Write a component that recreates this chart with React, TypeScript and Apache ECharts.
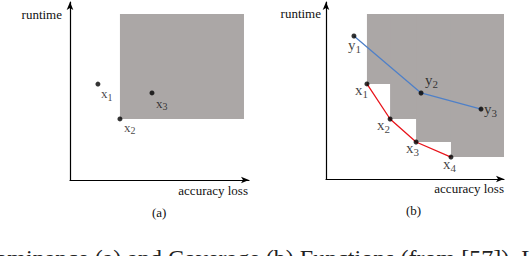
import React, { useEffect, useRef } from "react";
import * as echarts from "echarts";

// Panel (a): dominance
const aLabels = ["x1", "x2", "x3"];
const aLoss = [15.6, 27.9, 45.8];
const aRuntime = [53.9, 34.3, 48.9];
const aDominatingIndex = 1;
const aRegionRight = 97.2;
const aRegionTop = 93.3;

// Panel (b): coverage
const bXLabels = ["x1", "x2", "x3", "x4"];
const bXLoss = [23.0, 36.0, 50.6, 70.2];
const bXRuntime = [53.7, 33.9, 20.9, 12.4];
const bYLabels = ["y1", "y2", "y3"];
const bYLoss = [15.7, 53.4, 87.1];
const bYRuntime = [80.8, 48.6, 39.5];
const bRegionRight = 100;
const bRegionTop = 93.2;

const axisTitleY = "runtime";
const axisTitleX = "accuracy loss";
const panelTitles = ["(a)", "(b)"];
const caption = "Dominance (a) and Coverage (b) Functions (from [57]). L";

// label offsets (styling, not data)
const aLabelOffsets = [[5.5, 5.5], [6.5, 4.5], [6.5, 6.5]];
const bXLabelOffsets = [[-9.5, 1], [-10.5, 1], [-7.5, 1], [-5.5, 2]];
const bYLabelOffsets = [[-3.5, 4], [6.5, -18], [5.5, -5]];

const SERIF = "Liberation Serif";
const GRAY = "#aba7a6";

function richFor(size: number, sub: number, drop: number) {
  return {
    m: { fontSize: size, lineHeight: size, fontFamily: SERIF, color: "#111", verticalAlign: "top" },
    s: { fontSize: sub, lineHeight: sub, fontFamily: SERIF, color: "#111", padding: [drop, 0, 0, 0], verticalAlign: "top" },
  };
}

function makeAxes(gridIndex: number, padRight: number, yGap: number, xGap: number, xPadTop: number) {
  const axisLine = {
    show: true,
    onZero: false,
    symbol: ["none", "arrow"],
    symbolSize: [5, 8],
    lineStyle: { color: "#000", width: 1.2 },
  };
  const nameStyle = { fontFamily: SERIF, fontSize: 13, color: "#111" };
  return {
    x: {
      type: "value",
      gridIndex,
      min: 0,
      max: 100,
      axisLine,
      axisTick: { show: false },
      axisLabel: { show: false },
      splitLine: { show: false },
      name: axisTitleX,
      nameLocation: "end",
      nameGap: xGap,
      nameTextStyle: { ...nameStyle, align: "right", verticalAlign: "top", padding: [xPadTop, 0, 0, 0] },
    },
    y: {
      type: "value",
      gridIndex,
      min: 0,
      max: 100,
      axisLine,
      axisTick: { show: false },
      axisLabel: { show: false },
      splitLine: { show: false },
      name: axisTitleY,
      nameLocation: "end",
      nameGap: yGap,
      nameTextStyle: { ...nameStyle, align: "right", verticalAlign: "top", padding: [0, padRight, 0, 0] },
    },
  };
}

function regionSeries(idx: number, pts: number[][], right: number, top: number) {
  return {
    type: "custom",
    xAxisIndex: idx,
    yAxisIndex: idx,
    silent: true,
    z: 1,
    data: pts,
    renderItem: (_p: any, api: any) => {
      const p0 = api.coord([api.value(0), top]);
      const p1 = api.coord([right, api.value(1)]);
      return {
        type: "rect",
        shape: { x: p0[0], y: p0[1], width: p1[0] - p0[0], height: p1[1] - p0[1] },
        style: { fill: GRAY },
      };
    },
  };
}

function pointSeries(idx: number, labels: string[], xs: number[], ys: number[], offs: number[][], size: number, sub: number, drop: number) {
  return {
    type: "scatter",
    xAxisIndex: idx,
    yAxisIndex: idx,
    symbol: "circle",
    symbolSize: 5,
    z: 3,
    itemStyle: { color: "#000" },
    data: labels.map((lab, i) => ({
      value: [xs[i], ys[i]],
      label: {
        show: true,
        position: offs[i],
        formatter: `{m|${lab.charAt(0)}}{s|${lab.slice(1)}}`,
        rich: richFor(size, sub, drop),
      },
    })),
  };
}

function lineSeries(idx: number, xs: number[], ys: number[], color: string) {
  return {
    type: "line",
    xAxisIndex: idx,
    yAxisIndex: idx,
    showSymbol: false,
    z: 2,
    lineStyle: { color, width: 1.3 },
    data: xs.map((x, i) => [x, ys[i]]),
  };
}

export default function App() {
  const ref = useRef<HTMLDivElement>(null);
  useEffect(() => {
    if (!ref.current) return;
    const chart = echarts.init(ref.current, null, { renderer: "svg" });
    const axA = makeAxes(0, 8, -5.5, -1, 3.5);
    const axB = makeAxes(1, 5, -4.5, 0, 2.5);
    chart.setOption({
      animation: false,
      backgroundColor: "#fff",
      grid: [
        { left: 70, top: 2, width: 179, height: 178 },
        { left: 326, top: 2, width: 178, height: 177 },
      ],
      xAxis: [axA.x, axB.x],
      yAxis: [axA.y, axB.y],
      series: [
        regionSeries(0, [[aLoss[aDominatingIndex], aRuntime[aDominatingIndex]]], aRegionRight, aRegionTop),
        pointSeries(0, aLabels, aLoss, aRuntime, aLabelOffsets, 13, 10, 5),
        regionSeries(1, bXLoss.map((x, i) => [x, bXRuntime[i]]), bRegionRight, bRegionTop),
        lineSeries(1, bXLoss, bXRuntime, "#e8141b"),
        lineSeries(1, bYLoss, bYRuntime, "#4f80c8"),
        pointSeries(1, bXLabels, bXLoss, bXRuntime, bXLabelOffsets, 15, 11, 6),
        pointSeries(1, bYLabels, bYLoss, bYRuntime, bYLabelOffsets, 15, 11, 6),
      ],
      graphic: [
        { type: "text", x: 152, y: 206, style: { text: panelTitles[0], fontFamily: SERIF, fontSize: 13, fill: "#111", verticalAlign: "top" } },
        { type: "text", x: 406, y: 204, style: { text: panelTitles[1], fontFamily: SERIF, fontSize: 13, fill: "#111", verticalAlign: "top" } },
        { type: "text", x: -22, y: 246, style: { text: caption, fontFamily: SERIF, fontSize: 24, fill: "#222", verticalAlign: "top" } },
      ],
    });
    return () => chart.dispose();
  }, []);
  return <div ref={ref} style={{ position: "fixed", left: 0, top: 0, width: 532, height: 256 }} />;
}
